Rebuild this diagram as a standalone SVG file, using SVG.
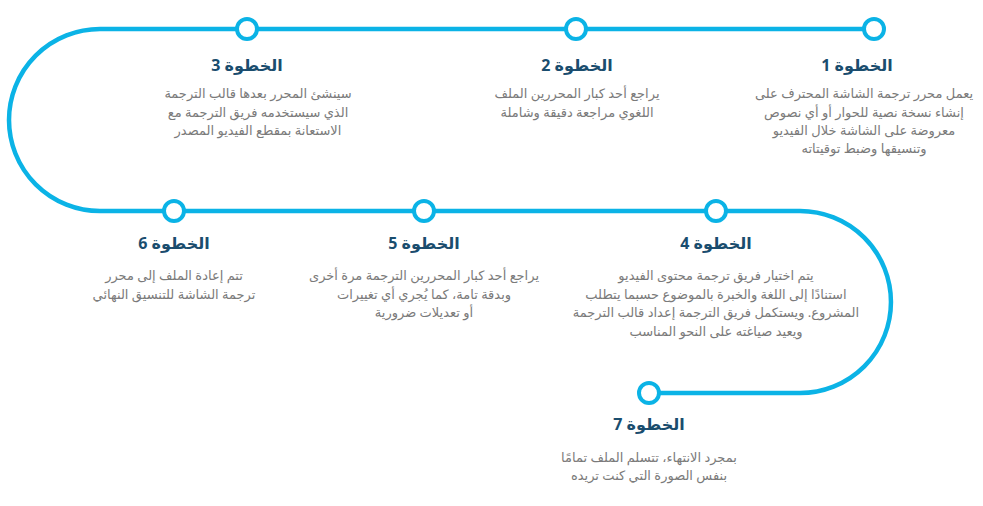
<svg xmlns="http://www.w3.org/2000/svg" width="983" height="506" viewBox="0 0 983 506">
<style>
.ln{fill:none;stroke:#0bb3e6;stroke-width:4.5}
.dot{fill:#fff;stroke:#0bb3e6;stroke-width:4}
.t{font-family:"Noto Sans","DejaVu Sans",sans-serif;font-weight:bold;font-size:16px;fill:#1a4d6e;text-anchor:middle;direction:rtl}
.d{font-family:"Noto Sans","DejaVu Sans",sans-serif;font-size:13px;fill:#7a7a7a;text-anchor:middle;direction:rtl}
</style>
<rect width="983" height="506" fill="#fff"/>
<g id="connectors">
<path class="ln" d="M874,29 H100 A91,91 0 0 0 100,211 H800 A91,91 0 0 1 800,393 H649"/>
</g>
<g id="step1"><circle class="dot" cx="874" cy="29" r="10"/><text class="t" x="857" y="71">الخطوة 1</text>
<text class="d" x="864" y="98">يعمل محرر ترجمة الشاشة المحترف على</text><text class="d" x="864" y="117">إنشاء نسخة نصية للحوار أو أي نصوص</text><text class="d" x="864" y="135">معروضة على الشاشة خلال الفيديو</text><text class="d" x="864" y="153">وتنسيقها وضبط توقيتاته</text></g>
<g id="step2"><circle class="dot" cx="576" cy="29" r="10"/><text class="t" x="577" y="71">الخطوة 2</text>
<text class="d" x="577" y="98">يراجع أحد كبار المحررين الملف</text><text class="d" x="577" y="117">اللغوي مراجعة دقيقة وشاملة</text></g>
<g id="step3"><circle class="dot" cx="247" cy="29" r="10"/><text class="t" x="247" y="71">الخطوة 3</text>
<text class="d" x="258" y="98">سينشئ المحرر بعدها قالب الترجمة</text><text class="d" x="258" y="117">الذي سيستخدمه فريق الترجمة مع</text><text class="d" x="258" y="135">الاستعانة بمقطع الفيديو المصدر</text></g>
<g id="step4"><circle class="dot" cx="716" cy="211" r="10"/><text class="t" x="716" y="249">الخطوة 4</text>
<text class="d" x="716" y="280">يتم اختيار فريق ترجمة محتوى الفيديو</text><text class="d" x="716" y="299">استنادًا إلى اللغة والخبرة بالموضوع حسبما يتطلب</text><text class="d" x="716" y="317">المشروع. ويستكمل فريق الترجمة إعداد قالب الترجمة</text><text class="d" x="716" y="336">ويعيد صياغته على النحو المناسب</text></g>
<g id="step5"><circle class="dot" cx="424" cy="211" r="10"/><text class="t" x="424" y="249">الخطوة 5</text>
<text class="d" x="424" y="280">يراجع أحد كبار المحررين الترجمة مرة أخرى</text><text class="d" x="424" y="299">وبدقة تامة، كما يُجري أي تغييرات</text><text class="d" x="424" y="317">أو تعديلات ضرورية</text></g>
<g id="step6"><circle class="dot" cx="174" cy="211" r="10"/><text class="t" x="174" y="249">الخطوة 6</text>
<text class="d" x="174" y="280">تتم إعادة الملف إلى محرر</text><text class="d" x="174" y="299">ترجمة الشاشة للتنسيق النهائي</text></g>
<g id="step7"><circle class="dot" cx="649" cy="393" r="10"/><text class="t" x="649" y="430">الخطوة 7</text>
<text class="d" x="649" y="462">بمجرد الانتهاء، تتسلم الملف تمامًا</text><text class="d" x="649" y="480">بنفس الصورة التي كنت تريده</text></g>
</svg>
